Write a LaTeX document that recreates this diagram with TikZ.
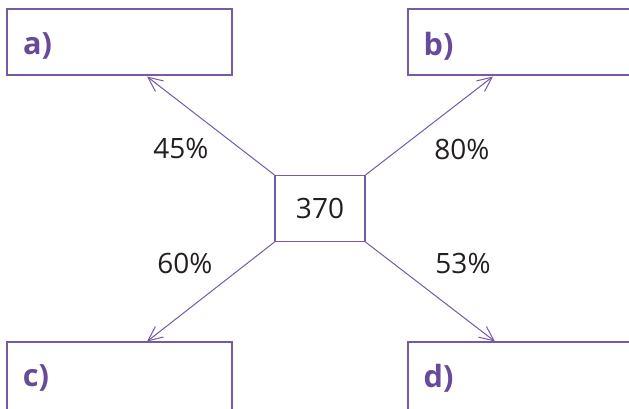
\documentclass[tikz,border=0pt]{standalone}
\usepackage{fontspec}
\setmainfont{Open Sans}
\usetikzlibrary{arrows.meta}
\definecolor{lineP}{RGB}{118,90,165}
\definecolor{textP}{RGB}{104,74,154}
\definecolor{numG}{RGB}{35,31,32}
\begin{document}
\begin{tikzpicture}[x=0.75pt,y=-0.75pt,
  answerbox/.style={draw=lineP,line width=0.9pt,rectangle,inner sep=0pt},
  midbox/.style={draw=lineP,line width=0.85pt,rectangle,inner sep=0pt,minimum width=67.5pt,minimum height=49.5pt,font=\fontsize{21}{24}\selectfont,text=numG},
  letter/.style={font=\fontsize{23}{26}\selectfont\bfseries,text=textP,anchor=center,inner sep=0pt},
  pct/.style={font=\fontsize{21}{24}\selectfont,text=numG,anchor=center,inner sep=0pt},
  conn/.style={draw=lineP,line width=0.75pt,-{Straight Barb[length=11pt,width=10pt,line width=0.75pt]}}]
\useasboundingbox (0,0) rectangle (629,408);
\clip (0,0) rectangle (629,408);
\fill[white] (0,0) rectangle (629,408);
% answer boxes
\draw[answerbox] (7,9) rectangle (232,75);
\draw[answerbox] (408,9) rectangle (640,75);
\draw[answerbox] (7,342) rectangle (232,420);
\draw[answerbox] (408,342) rectangle (640,420);
\node[letter] (la) at (37.5,46) {a)};
\node[letter] (lb) at (438.5,46) {b)};
\node[letter] (lc) at (36,378) {c)};
\node[letter] (ld) at (438.5,378) {d)};
% centre box
\node[midbox] (m) at (320,208.5) {370};
% arrow tips
\coordinate (ta) at (147,76.5);
\coordinate (tb) at (493,76.5);
\coordinate (tc) at (147,341.5);
\coordinate (td) at (495,341.5);
\draw[conn] (m.north west) -- (ta);
\draw[conn] (m.north east) -- (tb);
\draw[conn] (m.south west) -- (tc);
\draw[conn] (m.south east) -- (td);
% percentages
\node[pct] (p1) at (181,148) {45\%};
\node[pct] (p2) at (462,149) {80\%};
\node[pct] (p3) at (185,263) {60\%};
\node[pct] (p4) at (463,263) {53\%};
\end{tikzpicture}
\end{document}
